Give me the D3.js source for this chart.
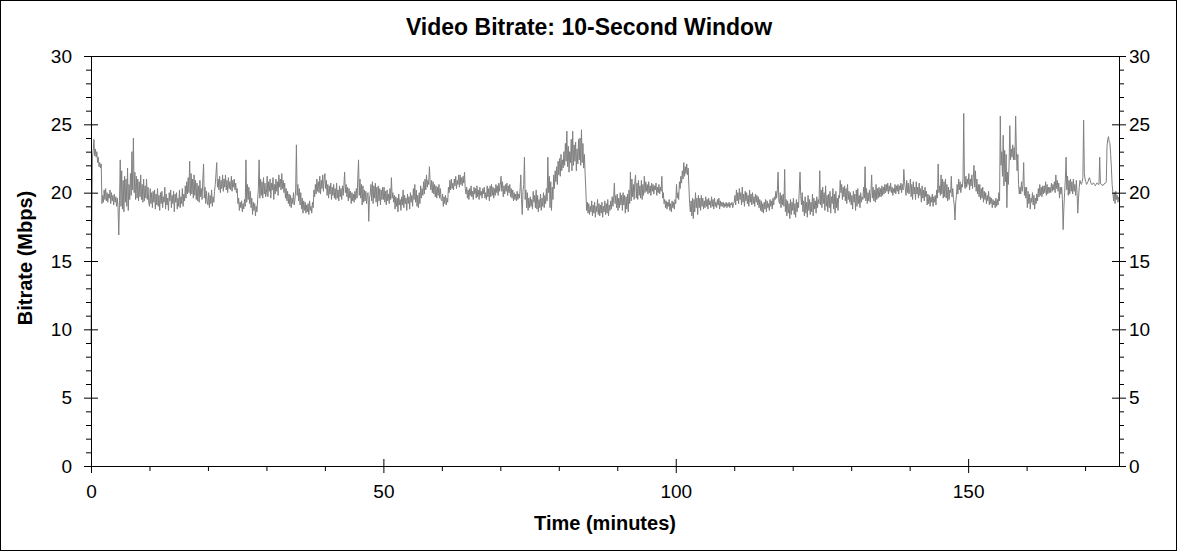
<!DOCTYPE html>
<html><head><meta charset="utf-8">
<script src="https://cdn.jsdelivr.net/npm/d3@7"></script>
<style>
body{margin:0;background:#fff}
svg{display:block}
text{font-family:Arial,"Liberation Sans",sans-serif;fill:#000}
</style></head>
<body><svg id="chart" width="1178" height="552"></svg>
<script>
const chartTitle = "Video Bitrate: 10-Second Window";
const xLabel = "Time (minutes)";
const yLabel = "Bitrate (Mbps)";
const xDomain = [0, 175.8];
const yDomain = [0, 30];
const xTicks = [0, 50, 100, 150];
const xMinorTicks = [10, 20, 30, 40, 60, 70, 80, 90, 110, 120, 130, 140, 160, 170];
const yTicks = [0, 5, 10, 15, 20, 25, 30];
const yMinorTicks = [1,2,3,4,6,7,8,9,11,12,13,14,16,17,18,19,21,22,23,24,26,27,28,29];
const sampleStep = 0.125; // minutes between samples

// bitrate (Mbps), one array per 10 minutes
const bitrate000 = [9.0,17.2,22.6,23.1,23.9,22.7,23.2,22.6,23.0,22.2,22.6,21.9,22.2,21.8,22.1,19.2,19.8,19.3,20.2,19.5,20.3,19.4,20.0,19.3,19.9,19.6,20.2,19.2,20.0,19.4,19.8,19.1,19.9,19.3,19.7,19.0,19.6,18.9,16.9,19.4,22.4,19.0,21.6,18.8,20.9,18.6,21.2,19.3,21.0,19.0,21.8,18.7,20.6,19.5,21.4,19.8,23.0,20.2,24.0,20.0,21.5,19.5,21.2,19.6,21.0,19.4,20.8,19.7,21.3,19.5,20.6,19.3,21.0,19.4,20.5,19.6,21.0,19.5,20.4,19.3];
const bitrate010 = [19.0,20.3,19.2,20.0,18.9,20.1,19.3,20.2,18.8,19.9,19.1,20.3,19.0,19.8,18.7,20.0,19.2,20.1,18.9,19.7,19.3,20.4,18.8,19.9,19.1,19.6,18.7,20.0,19.4,20.2,18.9,19.8,19.2,20.1,18.6,19.9,19.3,20.0,18.8,19.6,19.0,20.2,18.9,19.7,19.2,20.3,19.0,19.9,19.4,20.5,19.6,20.8,19.9,21.1,20.0,22.3,19.8,21.4,19.9,21.0,19.6,21.3,19.8,20.9,19.5,20.7,19.4,20.5,19.3,20.9,19.7,20.3,19.5,21.0,22.1,19.6,20.4,19.2,20.1,19.4];
const bitrate020 = [19.1,20.0,18.9,19.8,19.2,20.2,19.0,19.7,19.3,20.1,20.6,21.4,22.2,20.4,21.0,20.2,21.2,20.0,20.9,20.3,21.3,20.1,21.0,20.4,21.3,20.2,20.9,20.0,21.1,20.3,20.8,20.2,21.2,20.1,20.9,20.4,21.0,20.2,20.7,20.0,20.3,19.2,19.6,18.7,19.3,18.9,19.4,18.6,19.2,18.8,19.5,19.0,22.4,19.3,20.6,19.5,20.4,19.2,20.1,18.9,19.6,18.4,19.3,18.7,19.2,18.3,19.0,18.6,19.5,20.3,22.4,19.6,21.0,19.8,20.8,19.6,21.1,19.9,20.7,19.7];
const bitrate030 = [20.0,21.2,19.7,20.8,20.1,21.0,19.6,20.7,20.2,21.1,19.5,20.6,19.9,21.0,20.1,20.8,19.8,21.3,20.4,21.0,20.2,21.4,20.3,20.9,20.0,20.7,19.6,20.3,19.4,20.1,19.2,19.9,19.0,19.8,18.9,19.6,19.2,20.0,19.1,19.5,20.2,23.5,19.8,20.6,19.4,20.3,19.1,20.0,18.8,19.6,18.5,19.4,18.7,19.3,18.5,19.1,18.6,19.2,18.4,19.4,18.7,19.0,18.5,19.3,18.9,20.2,19.7,20.6,19.9,21.0,20.1,20.8,20.0,21.2,19.9,20.9,20.3,21.3,20.1,21.0];
const bitrate040 = [21.4,20.3,20.9,19.8,20.6,19.6,20.5,19.9,20.7,19.5,20.4,19.8,20.6,19.6,20.3,19.5,20.7,19.6,20.2,19.4,20.5,19.7,20.3,19.5,20.5,19.8,20.6,21.5,20.0,20.6,19.7,20.4,19.4,20.3,19.6,20.1,19.2,20.0,19.4,19.9,19.3,20.1,19.5,20.3,19.6,21.0,22.4,19.8,21.0,19.6,20.6,19.1,20.5,19.3,20.2,19.4,20.1,19.2,19.8,20.0,17.9,19.6,19.9,20.6,19.4,20.8,19.2,20.5,19.6,20.7,19.3,20.4,19.0,20.5,19.4,20.3,19.1,20.2,19.5,20.4];
const bitrate050 = [19.5,20.4,19.3,20.1,19.1,20.2,19.4,19.9,19.2,20.3,19.5,21.1,19.6,20.0,19.3,19.8,18.8,19.7,19.0,19.6,18.6,19.9,19.1,19.5,18.7,19.7,19.1,20.2,18.9,19.8,19.2,19.6,18.7,19.9,19.2,19.7,18.8,20.0,19.3,19.8,19.0,20.3,19.5,20.6,19.3,20.2,19.0,19.8,18.9,20.0,19.2,20.5,19.6,20.3,19.8,20.8,19.9,21.0,20.2,21.3,20.4,20.9,20.6,21.9,20.7,20.2,20.9,20.0,20.8,19.9,20.6,19.7,20.5,19.6,20.4,19.8,20.6,19.6,20.3,19.5];
const bitrate060 = [19.4,19.9,19.0,19.7,19.2,19.8,19.1,19.6,19.3,20.4,20.0,20.9,20.2,21.0,20.3,20.7,20.2,21.0,20.5,21.2,20.3,20.9,20.6,21.3,20.4,21.3,20.6,21.1,20.5,21.2,20.7,21.5,20.3,19.9,20.4,19.6,20.2,19.5,20.3,19.8,20.5,19.7,20.1,19.5,20.4,19.9,20.3,19.6,20.5,19.7,20.2,19.5,20.4,19.8,20.1,19.6,20.3,19.9,20.4,19.6,20.0,19.5,20.5,19.7,20.3,19.4,20.5,19.7,20.6,19.8,20.4,19.6,20.3,19.8,20.6,20.0,20.5,19.8,20.7,20.1];
const bitrate070 = [20.6,21.2,20.1,20.8,19.7,20.5,19.9,20.6,20.1,20.7,19.8,20.5,20.0,20.6,19.7,20.3,19.6,20.2,19.4,20.0,19.5,19.9,19.4,20.1,19.5,19.9,19.6,20.2,21.3,19.5,18.4,20.1,20.6,22.6,19.5,20.2,18.9,20.0,18.7,19.6,18.9,19.7,19.0,19.5,18.8,20.1,19.3,19.8,18.9,20.2,18.8,19.8,18.6,19.5,18.9,19.9,18.7,19.6,19.0,20.0,18.9,19.8,19.2,20.3,19.4,22.6,20.0,21.2,18.9,20.8,18.7,20.4,19.5,21.3,20.3,21.6,20.8,21.9,20.6,22.3];
const bitrate080 = [21.3,22.5,21.2,22.8,21.6,22.4,21.8,23.0,22.0,23.6,22.3,24.5,21.9,23.4,21.5,23.0,22.2,23.9,21.6,24.5,22.0,23.5,22.3,23.7,21.6,23.2,22.1,23.9,22.4,24.0,22.0,24.6,22.2,23.6,21.8,22.8,21.4,20.2,18.7,19.3,18.5,19.2,18.4,19.0,18.6,19.4,18.3,19.1,18.5,19.3,18.2,19.0,18.6,19.5,18.4,19.2,18.3,19.1,18.5,19.3,18.2,19.0,18.6,19.4,18.4,19.2,18.5,19.5,18.3,19.1,18.7,19.4,18.8,19.7,19.0,19.6,20.7,19.2,19.8,18.9];
const bitrate090 = [19.9,18.7,19.6,18.9,20.0,19.1,19.8,18.7,20.0,19.1,19.8,18.5,19.7,18.8,19.9,18.6,20.2,19.2,21.5,19.4,21.0,19.7,20.6,19.5,20.8,21.3,19.6,20.7,19.5,20.9,19.8,20.5,19.6,20.9,19.5,20.6,19.8,21.2,20.0,20.8,20.1,20.6,19.9,20.8,20.0,20.5,19.8,20.7,20.1,20.6,19.9,20.5,20.2,20.7,19.8,20.4,20.0,20.6,19.9,20.4,20.1,21.2,19.6,20.0,19.2,19.5,18.9,19.4,18.8,19.3,19.0,19.5,18.7,19.2,18.6,19.4,18.9,19.3,18.8,19.5];
const bitrate100 = [19.2,20.6,19.6,20.0,19.5,20.8,20.3,21.2,20.7,21.6,21.0,22.2,21.2,21.9,21.4,22.1,21.3,21.8,20.4,19.2,18.6,19.4,18.3,19.6,18.1,19.5,18.6,20.0,18.9,19.6,18.4,19.8,18.9,19.6,18.7,19.8,19.0,19.6,18.8,19.4,18.9,19.7,19.0,19.5,18.8,19.6,19.1,19.4,18.9,19.7,19.0,19.5,18.8,19.6,19.0,19.3,18.9,19.5,19.1,19.6,18.8,19.4,19.0,19.3,19.0,19.3,18.9,19.2,19.0,19.3,18.9,19.2,19.0,19.3,18.9,19.2,19.1,19.3,18.9,19.2];
const bitrate110 = [19.3,19.8,19.1,20.2,19.4,20.0,19.2,20.3,19.5,20.0,19.1,20.4,19.3,19.9,19.0,20.1,19.4,20.0,19.2,19.8,19.0,20.2,19.3,19.9,19.1,20.0,19.2,19.7,19.0,19.9,19.3,19.8,19.1,19.7,18.9,19.5,18.7,19.4,18.6,19.2,18.5,19.3,18.8,19.5,18.6,19.4,18.9,19.2,18.7,19.5,19.0,19.4,18.8,19.6,19.1,19.7,19.5,20.1,19.6,20.2,21.5,19.4,19.2,20.0,18.9,19.8,19.1,19.9,19.0,21.7,18.6,19.5,18.3,19.4,18.5,19.2,18.1,19.5,18.4,19.3];
const bitrate120 = [18.7,19.6,18.4,19.2,18.2,19.5,18.6,19.3,18.9,20.2,21.5,19.8,19.1,20.0,18.6,19.4,18.3,19.7,18.5,19.3,18.2,19.8,18.7,19.5,18.4,19.3,18.6,19.9,18.3,19.6,18.8,19.4,18.5,19.7,18.9,19.5,19.2,21.6,19.1,20.2,18.9,20.4,19.2,20.0,18.7,20.5,19.0,19.8,18.6,19.9,18.9,20.1,18.5,19.7,19.2,20.3,18.8,19.9,18.5,20.1,18.9,19.6,18.7,19.8,19.6,20.9,20.0,20.6,19.5,20.4,19.7,20.5,19.4,20.3,19.2,20.6,19.5,20.1,19.3,20.0];
const bitrate130 = [19.1,19.8,18.8,20.1,19.3,19.9,18.7,20.2,19.0,20.3,19.2,19.8,18.9,20.0,19.3,19.7,19.5,20.4,19.6,21.9,19.4,20.3,19.2,20.0,19.4,20.2,19.3,20.0,21.3,19.6,20.4,19.4,20.2,19.3,20.6,19.5,20.3,19.6,20.4,19.7,20.3,19.7,20.5,19.8,20.4,19.9,20.6,20.0,20.6,20.1,20.7,19.9,20.5,20.1,20.7,20.0,20.4,19.8,20.3,20.0,20.6,19.9,20.5,20.1,20.6,19.9,20.5,20.2,20.7,20.0,20.6,20.2,21.7,20.8,20.3,19.8,20.9,20.0,20.7,19.9];
const bitrate140 = [20.2,21.0,19.7,20.6,19.5,20.8,19.9,20.4,19.5,20.8,19.9,20.4,19.6,20.7,19.8,20.3,19.3,20.5,19.6,20.2,19.4,20.4,19.7,20.1,19.1,19.9,19.2,19.8,19.0,19.7,19.3,19.9,19.0,19.7,19.3,19.8,19.1,20.2,19.6,22.1,20.0,20.5,19.8,21.3,19.9,21.0,19.6,20.8,19.7,21.0,19.6,20.6,19.4,20.4,19.5,20.2,20.0,21.2,19.7,20.3,19.5,19.1,18.0,19.3,19.8,20.6,19.9,21.0,20.2,20.8,20.0,20.6,20.4,21.0,25.8,20.6,20.3,21.2,20.4,21.0];
const bitrate150 = [20.6,21.4,20.2,21.0,20.5,21.3,20.3,21.1,22.0,20.4,21.6,20.1,21.0,19.9,20.6,19.7,20.6,19.5,20.3,19.6,20.4,19.3,20.1,19.5,20.0,19.2,19.8,19.4,20.1,19.1,19.7,19.2,19.6,18.9,19.5,19.1,19.4,18.9,19.6,19.0,19.5,19.1,20.0,19.4,25.6,22.0,23.0,21.2,24.2,20.5,23.1,20.8,22.8,18.9,21.5,20.6,22.0,24.9,22.4,23.2,22.6,23.5,22.4,23.3,22.4,25.6,23.0,21.6,22.8,20.6,19.9,20.4,19.9,20.8,20.1,20.6,22.2,19.8,20.4,19.6];
const bitrate160 = [20.4,18.9,20.1,19.2,19.9,18.8,19.6,19.3,20.0,19.1,19.8,18.8,19.6,19.2,19.9,19.4,20.3,19.7,20.6,19.8,20.4,19.7,20.5,19.9,20.5,20.0,20.8,19.8,20.6,19.9,20.4,20.0,20.4,20.0,20.7,20.1,20.6,20.2,20.8,20.0,21.3,20.3,20.9,20.1,20.7,19.6,20.4,19.9,20.4,19.5,17.3,18.9,20.0,21.0,22.6,20.2,21.2,19.8,20.9,19.9,21.0,20.1,20.8,19.9,21.0,20.1,20.6,19.8,20.9,20.0,18.5,19.6,20.4,20.9,20.7,20.6,20.8,21.1,25.3,21.4];
const bitrate170 = [21.0,20.8,20.6,20.7,20.8,21.0,21.1,20.9,20.7,20.6,20.6,20.7,20.7,20.6,20.5,20.6,20.7,20.7,20.6,20.6,22.6,20.7,20.6,20.6,20.5,20.6,20.6,20.7,20.7,20.8,23.4,23.9,24.1,23.7,23.6,22.8,21.8,20.6,20.0,19.4,20.0,19.2,20.1,19.5,19.8,19.3,19.7];

const segments = [
  [0, bitrate000], [10, bitrate010], [20, bitrate020], [30, bitrate030], [40, bitrate040],
  [50, bitrate050], [60, bitrate060], [70, bitrate070], [80, bitrate080], [90, bitrate090],
  [100, bitrate100], [110, bitrate110], [120, bitrate120], [130, bitrate130], [140, bitrate140],
  [150, bitrate150], [160, bitrate160], [170, bitrate170]
];
const series = [];
segments.forEach(([start, vals]) => vals.forEach((v, i) => series.push({t: start + i * sampleStep, v})));

const svg = d3.select("#chart");
const plot = {left: 91, right: 1119, top: 56, bottom: 466};

const x = d3.scaleLinear().domain(xDomain).range([plot.left, plot.right]);
const y = d3.scaleLinear().domain(yDomain).range([plot.bottom, plot.top]);

// outer border
svg.append("rect").attr("x", 0.5).attr("y", 0.5).attr("width", 1176).attr("height", 550)
  .attr("fill", "#fff").attr("stroke", "#000").attr("stroke-width", 1);

// data line
svg.append("path").datum(series)
  .attr("fill", "none").attr("stroke", "#808080").attr("stroke-width", 1)
  .attr("d", d3.line().x(d => x(d.t)).y(d => y(d.v)));

// plot frame
svg.append("rect").attr("x", plot.left + 0.5).attr("y", plot.top + 0.5)
  .attr("width", plot.right - plot.left).attr("height", plot.bottom - plot.top)
  .attr("fill", "none").attr("stroke", "#000").attr("stroke-width", 1);

function styleAxis(g, fs) {
  g.select(".domain").remove();
  g.selectAll("line").attr("stroke", "#000");
  g.selectAll("text").attr("font-size", fs).attr("fill", "#000")
    .attr("font-family", "Arial, 'Liberation Sans', sans-serif");
}
const tickFont = 19;

// left axis
svg.append("g").attr("transform", `translate(${plot.left},0)`)
  .call(d3.axisLeft(y).tickValues(yTicks).tickSize(7).tickPadding(12)).call(g => styleAxis(g, tickFont));
svg.append("g").attr("transform", `translate(${plot.left},0)`)
  .call(d3.axisLeft(y).tickValues(yTicks).tickSize(-7).tickFormat("")).call(g => styleAxis(g, tickFont));
svg.append("g").attr("transform", `translate(${plot.left},0)`)
  .call(d3.axisLeft(y).tickValues(yMinorTicks).tickSize(5).tickFormat("")).call(g => styleAxis(g, tickFont));

// right axis
svg.append("g").attr("transform", `translate(${plot.right},0)`)
  .call(d3.axisRight(y).tickValues(yTicks).tickSize(7).tickPadding(3)).call(g => styleAxis(g, tickFont));
svg.append("g").attr("transform", `translate(${plot.right},0)`)
  .call(d3.axisRight(y).tickValues(yTicks).tickSize(-7).tickFormat("")).call(g => styleAxis(g, tickFont));
svg.append("g").attr("transform", `translate(${plot.right},0)`)
  .call(d3.axisRight(y).tickValues(yMinorTicks).tickSize(5).tickFormat("")).call(g => styleAxis(g, tickFont));

// bottom axis
svg.append("g").attr("transform", `translate(0,${plot.bottom})`)
  .call(d3.axisBottom(x).tickValues(xTicks).tickSize(7).tickPadding(11.5)).call(g => styleAxis(g, tickFont));
svg.append("g").attr("transform", `translate(0,${plot.bottom})`)
  .call(d3.axisBottom(x).tickValues(xTicks).tickSize(-7).tickFormat("")).call(g => styleAxis(g, tickFont));
svg.append("g").attr("transform", `translate(0,${plot.bottom})`)
  .call(d3.axisBottom(x).tickValues(xMinorTicks).tickSize(5).tickFormat("")).call(g => styleAxis(g, tickFont));

// titles
svg.append("text").attr("x", 589).attr("y", 35).attr("text-anchor", "middle")
  .attr("font-size", 23).attr("font-weight", "bold").text(chartTitle);
svg.append("text").attr("x", (plot.left + plot.right) / 2).attr("y", 530).attr("text-anchor", "middle")
  .attr("font-size", 20).attr("font-weight", "bold").text(xLabel);
svg.append("text").attr("transform", `translate(32,${(plot.top + plot.bottom) / 2 - 3}) rotate(-90)`)
  .attr("text-anchor", "middle").attr("font-size", 20).attr("font-weight", "bold").text(yLabel);
</script>
</body></html>
